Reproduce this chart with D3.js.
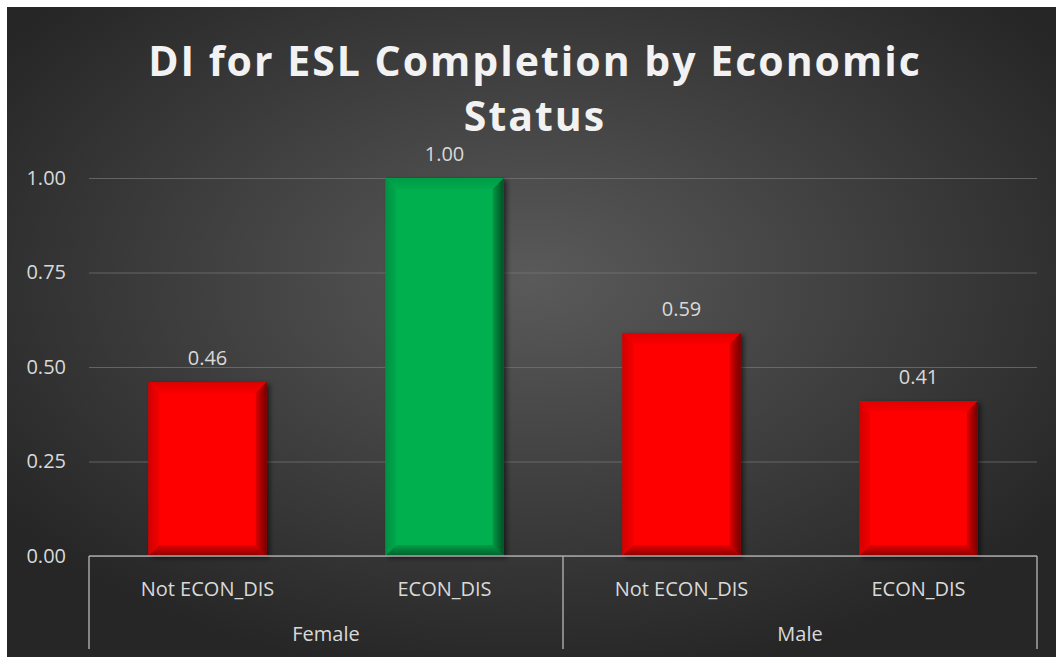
<!DOCTYPE html>
<html lang="en">
<head>
<meta charset="UTF-8">
<title>DI for ESL Completion by Economic Status</title>
<script src="https://d3js.org/d3.v7.min.js"></script>
<style>
  body { margin: 0; background: #fff; }
  svg text { font-family: "Open Sans", sans-serif; }
</style>
</head>
<body>
<svg id="chart"></svg>
<script>
    const groups = ["Female", "Male"];
    const subCategories = ["Not ECON_DIS", "ECON_DIS", "Not ECON_DIS", "ECON_DIS"];
    const groupOf = ["Female", "Female", "Male", "Male"];
    const values = [0.46, 1.00, 0.59, 0.41];
    const barColors = ["#ff0000", "#00b050", "#ff0000", "#ff0000"];
    const yTicks = [0, 0.25, 0.5, 0.75, 1.0];
    const titleLines = ["DI for ESL Completion by Economic", "Status"];

    const W = 1056, H = 657;
    const plot = { left: 89, right: 1037, top: 178, bottom: 556 };
    const labelSize = 20;

    const svg = d3.select("#chart").attr("width", W).attr("height", H);
    const defs = svg.append("defs");

    const bg = defs.append("radialGradient").attr("id", "bg")
        .attr("cx", "50%").attr("cy", "42%").attr("r", "62%");
    bg.append("stop").attr("offset", "0%").attr("stop-color", "#5a5a5a");
    bg.append("stop").attr("offset", "100%").attr("stop-color", "#262626");

    const shadow = defs.append("filter").attr("id", "shadow")
        .attr("x", "-20%").attr("y", "-20%").attr("width", "140%").attr("height", "140%");
    shadow.append("feDropShadow").attr("dx", 3).attr("dy", 2).attr("stdDeviation", 2.5)
        .attr("flood-color", "#000").attr("flood-opacity", 0.55);

    // bevel gradients, one per side, fading from edge to inside
    const sides = [
        { id: "bvTop", x1: "0", y1: "0", x2: "0", y2: "1", op: 0.12 },
        { id: "bvLeft", x1: "0", y1: "0", x2: "1", y2: "0", op: 0.18 },
        { id: "bvRight", x1: "1", y1: "0", x2: "0", y2: "0", op: 0.55 },
        { id: "bvBottom", x1: "0", y1: "1", x2: "0", y2: "0", op: 0.45 }
    ];
    sides.forEach(s => {
        const g = defs.append("linearGradient").attr("id", s.id)
            .attr("x1", s.x1).attr("y1", s.y1).attr("x2", s.x2).attr("y2", s.y2);
        g.append("stop").attr("offset", "0%").attr("stop-color", "#000").attr("stop-opacity", s.op);
        g.append("stop").attr("offset", "100%").attr("stop-color", "#000").attr("stop-opacity", s.op * 0.25);
    });

    svg.append("rect").attr("x", 7).attr("y", 7).attr("width", W - 7).attr("height", H - 7)
        .attr("fill", "url(#bg)");

    // title
    const title = svg.append("text").attr("text-anchor", "middle")
        .attr("fill", "#f2f2f2").attr("font-weight", 700).attr("font-size", 41)
        .style("letter-spacing", "2px");
    titleLines.forEach((t, i) => {
        title.append("tspan").attr("x", 535).attr("y", 76 + i * 55).text(t);
    });

    const x = d3.scaleBand()
        .domain(d3.range(values.length))
        .range([plot.left, plot.right])
        .paddingInner(0.5)
        .paddingOuter(0.25);

    const y = d3.scaleLinear().domain([0, 1]).range([plot.bottom, plot.top]);

    // gridlines + y labels
    const yAxis = svg.append("g")
        .attr("transform", `translate(${plot.left},0)`)
        .call(d3.axisLeft(y).tickValues(yTicks).tickFormat(d3.format(".2f"))
            .tickSize(-(plot.right - plot.left)).tickPadding(23));
    yAxis.select(".domain").remove();
    yAxis.selectAll(".tick line").attr("stroke", "#777").attr("stroke-width", 1).attr("opacity", 0.7);
    yAxis.selectAll(".tick text").attr("fill", "#d9d9d9").attr("font-size", labelSize)
        .attr("font-family", "Open Sans, sans-serif");

    // bars
    const bars = svg.selectAll(".bar").data(values).enter().append("g").attr("class", "bar");
    const bevel = 11;
    bars.each(function(v, i) {
        const g = d3.select(this);
        const x0 = x(i), x1 = x(i) + x.bandwidth();
        const y0 = y(v), y1 = y(0);
        const b = Math.min(bevel, (y1 - y0) / 2);
        g.append("rect").attr("x", x0).attr("y", y0).attr("width", x1 - x0).attr("height", y1 - y0)
            .attr("fill", barColors[i]).attr("filter", "url(#shadow)");
        const poly = (pts, fill) => g.append("polygon")
            .attr("points", pts.map(p => p.join(",")).join(" ")).attr("fill", fill);
        poly([[x0, y0], [x1, y0], [x1 - b, y0 + b], [x0 + b, y0 + b]], "url(#bvTop)");
        poly([[x0, y0], [x0 + b, y0 + b], [x0 + b, y1 - b], [x0, y1]], "url(#bvLeft)");
        poly([[x1, y0], [x1, y1], [x1 - b, y1 - b], [x1 - b, y0 + b]], "url(#bvRight)");
        poly([[x0, y1], [x0 + b, y1 - b], [x1 - b, y1 - b], [x1, y1]], "url(#bvBottom)");
    });

    // value labels
    svg.selectAll(".val").data(values).enter().append("text")
        .attr("class", "val")
        .attr("x", (d, i) => x(i) + x.bandwidth() / 2)
        .attr("y", d => y(d) - 17)
        .attr("text-anchor", "middle")
        .attr("fill", "#d9d9d9").attr("font-size", labelSize)
        .text(d => d.toFixed(2));

    // category axis (two levels)
    const axis = svg.append("g").attr("stroke", "#a6a6a6").attr("stroke-width", 1.5);
    axis.append("line").attr("x1", plot.left).attr("x2", plot.right)
        .attr("y1", plot.bottom).attr("y2", plot.bottom);
    const step = x.step();
    const groupEdges = [plot.left];
    groups.forEach(gname => {
        const n = groupOf.filter(g => g === gname).length;
        groupEdges.push(groupEdges[groupEdges.length - 1] + n * step);
    });
    groupEdges.forEach(ex => {
        axis.append("line").attr("x1", ex).attr("x2", ex)
            .attr("y1", plot.bottom).attr("y2", plot.bottom + 93);
    });

    svg.selectAll(".sub").data(subCategories).enter().append("text")
        .attr("class", "sub")
        .attr("x", (d, i) => x(i) + x.bandwidth() / 2)
        .attr("y", plot.bottom + 40)
        .attr("text-anchor", "middle")
        .attr("fill", "#d9d9d9").attr("font-size", labelSize)
        .text(d => d);

    svg.selectAll(".grp").data(groups).enter().append("text")
        .attr("class", "grp")
        .attr("x", (d, i) => (groupEdges[i] + groupEdges[i + 1]) / 2)
        .attr("y", plot.bottom + 85)
        .attr("text-anchor", "middle")
        .attr("fill", "#d9d9d9").attr("font-size", labelSize)
        .text(d => d);
</script>
</body>
</html>
